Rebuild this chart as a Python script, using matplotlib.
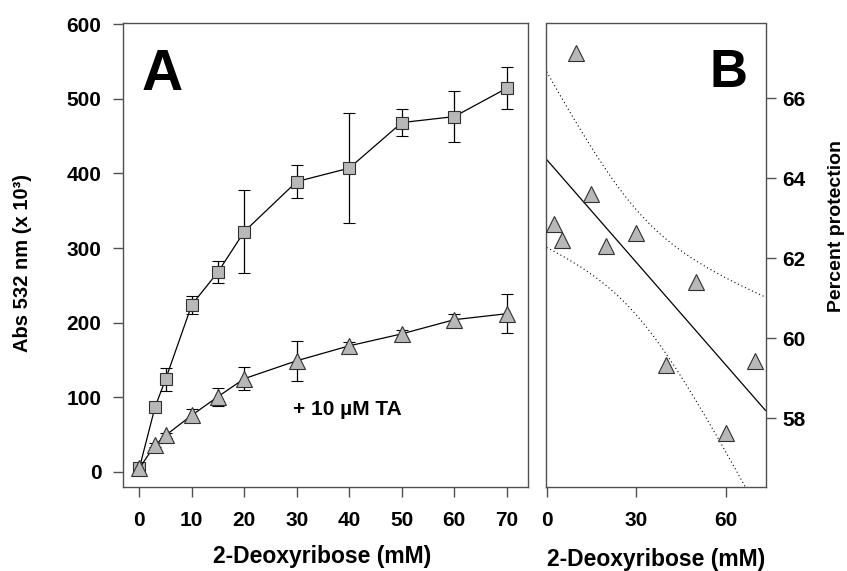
import numpy as np
import matplotlib
matplotlib.use("Agg")
import matplotlib.pyplot as plt

plt.rcParams['font.family'] = ['Liberation Sans', 'DejaVu Sans']
plt.rcParams['font.weight'] = 'bold'

# Panel A: TBARS absorbance vs deoxyribose, with and without TA
conc_a = [0, 3, 5, 10, 15, 20, 30, 40, 50, 60, 70]
control = [5, 87, 124, 224, 268, 322, 389, 407, 468, 476, 514]
control_err = [3, 3, 15, 12, 15, 56, 22, 74, 18, 34, 28]
with_ta = [5, 36, 49, 76, 101, 125, 149, 169, 185, 204, 212]
with_ta_err = [2, 3, 3, 9, 12, 15, 27, 5, 5, 8, 26]

# Panel B: percent protection
conc_b = [2.5, 5, 10, 15, 20, 30, 40, 50, 60, 70]
protection = [62.86, 62.45, 67.13, 63.61, 62.32, 62.63, 59.34, 61.42, 57.63, 59.44]

face = '#b8b8b8'
edge = '#303030'
spine_col = '#505050'

fig = plt.figure(figsize=(8.47, 5.71), dpi=100)
W, H = 847.0, 571.0
bot = (H - 486.7) / H
hgt = 463.2 / H
axA = fig.add_axes([123.3 / W, bot, 405 / W, hgt])
axB = fig.add_axes([546 / W, bot, 219.5 / W, hgt])

# ---- panel A
axA.errorbar(conc_a, control, yerr=control_err, color='black', lw=0.9,
             marker='s', ms=9, mfc=face, mec=edge, mew=0.8,
             ecolor='black', elinewidth=0.9, capsize=4, capthick=0.9, zorder=3)
axA.errorbar(conc_a, with_ta, yerr=with_ta_err, color='black', lw=0.9,
             marker='^', ms=11, mfc=face, mec=edge, mew=0.8,
             ecolor='black', elinewidth=0.9, capsize=4, capthick=0.9, zorder=3)
axA.set_xlim(-3.05, 74.1)
axA.set_ylim(-19.7, 600.7)
axA.set_xticks(range(0, 80, 10))
axA.set_yticks(range(0, 700, 100))
axA.text(29.2, 84, '+ 10 \u00b5M TA', fontsize=15, fontweight='bold',
         ha='left', va='center')
axA.text(0.097, 0.856, 'A', transform=axA.transAxes, fontsize=41,
         fontweight='bold', ha='center', va='baseline')
axA.tick_params(axis='x', direction='out', length=7.2, width=1,
                color=spine_col, labelsize=15, pad=10)
axA.tick_params(axis='y', direction='out', length=7.2, width=1,
                color=spine_col, labelsize=15, pad=8.5)

# ---- panel B: linear fit with 95% confidence band
xb = np.array(conc_b)
yb = np.array(protection)
slope, icpt = np.polyfit(xb, yb, 1)
resid = yb - (icpt + slope * xb)
s = np.sqrt(np.sum(resid ** 2) / (len(xb) - 2))
sxx = np.sum((xb - xb.mean()) ** 2)
xfit = np.linspace(0, 73.4, 200)
yfit = icpt + slope * xfit
half = 2.306 * s * np.sqrt(1 / len(xb) + (xfit - xb.mean()) ** 2 / sxx)

axB.plot(xfit, yfit, color='black', lw=0.9)
axB.plot(xfit, yfit + half, color='black', lw=0.8, ls=(0, (1, 2.5)))
axB.plot(xfit, yfit - half, color='black', lw=0.8, ls=(0, (1, 2.5)))
axB.plot(conc_b, protection, ls='none', marker='^', ms=11, mfc=face,
         mec=edge, mew=0.8, zorder=3)
axB.set_xlim(-0.23, 73.4)
axB.set_ylim(56.29, 67.87)
axB.set_xticks([0, 30, 60])
axB.set_yticks([58, 60, 62, 64, 66])
axB.yaxis.tick_right()
axB.text(0.833, 0.862, 'B', transform=axB.transAxes, fontsize=38,
         fontweight='bold', ha='center', va='baseline')
axB.tick_params(axis='x', direction='out', length=7.2, width=1,
                color=spine_col, labelsize=15, pad=10)
axB.tick_params(axis='y', direction='out', length=7.2, width=1,
                color=spine_col, labelsize=15, pad=5)

for ax in (axA, axB):
    for sp in ax.spines.values():
        sp.set_color(spine_col)
        sp.set_linewidth(1.0)

# axis titles
fig.text(322.5 / W, (H - 563) / H, '2-Deoxyribose (mM)', fontsize=16.5,
         fontweight='bold', ha='center', va='baseline')
fig.text(656 / W, (H - 566) / H, '2-Deoxyribose (mM)', fontsize=16.5,
         fontweight='bold', ha='center', va='baseline')
fig.text(23 / W, 1 - 263 / H, 'Abs 532 nm (x 10\u00b3)', fontsize=14.5,
         fontweight='bold', rotation=90, ha='center', va='center')
fig.text(836 / W, 1 - 226 / H, 'Percent protection', fontsize=14,
         fontweight='bold', rotation=90, ha='center', va='center')

fig.savefig('out.png', dpi=100)
